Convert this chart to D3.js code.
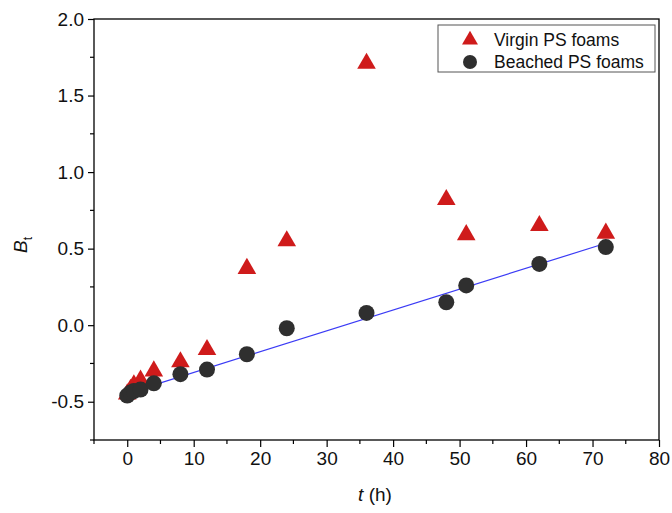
<!DOCTYPE html>
<html><head><meta charset="utf-8">
<script src="https://cdn.jsdelivr.net/npm/d3@7"></script>
<style>body{margin:0;background:#fff}svg{display:block;font-family:"Liberation Sans",Arial,sans-serif}</style>
</head><body><svg id="c" width="672" height="513"></svg>
<script>
const times = [0, 0.5, 1, 2, 4, 8, 12, 18, 24, 36, 48, 51, 62, 72];
const virgin = [-0.45, -0.42, -0.39, -0.36, -0.30, -0.24, -0.16, 0.37, 0.55, 1.71, 0.82, 0.59, 0.65, 0.60];
const beached = [-0.46, -0.44, -0.43, -0.42, -0.38, -0.32, -0.29, -0.19, -0.02, 0.08, 0.15, 0.26, 0.40, 0.51];
const fitT = [0, 72];
const fitB = [-0.445, 0.535];
const xTicks = [0, 10, 20, 30, 40, 50, 60, 70, 80];
const xMinor = [-5, 5, 15, 25, 35, 45, 55, 65, 75];
const yTicks = [-0.5, 0.0, 0.5, 1.0, 1.5, 2.0];
const yMinor = [-0.75, -0.25, 0.25, 0.75, 1.25, 1.75];
const seriesNames = ["Virgin PS foams", "Beached PS foams"];

const svg = d3.select("#c");
const L = 94, R = 659, T = 19, B = 440;
const x = d3.scaleLinear().domain([-5, 80]).range([L, R]);
const y = d3.scaleLinear().domain([-0.75, 2.0]).range([B, T]);

// frame
svg.append("rect").attr("x", L).attr("y", T).attr("width", R - L).attr("height", B - T)
  .attr("fill", "none").attr("stroke", "#000").attr("stroke-width", 1.3);

// minor ticks
svg.append("g").selectAll("line").data(xMinor).join("line")
  .attr("x1", d => x(d)).attr("x2", d => x(d)).attr("y1", B).attr("y2", B + 4)
  .attr("stroke", "#000").attr("stroke-width", 1.2);
svg.append("g").selectAll("line").data(yMinor).join("line")
  .attr("x1", L - 4).attr("x2", L).attr("y1", d => y(d)).attr("y2", d => y(d))
  .attr("stroke", "#000").attr("stroke-width", 1.2);

// axes
const fmtY = d => d3.format(".1f")(d).replace("\u2212", "-");
const xAxis = svg.append("g").attr("transform", `translate(0,${B})`)
  .call(d3.axisBottom(x).tickValues(xTicks).tickSize(7).tickPadding(5).tickFormat(d3.format("d")));
const yAxis = svg.append("g").attr("transform", `translate(${L},0)`)
  .call(d3.axisLeft(y).tickValues(yTicks).tickSize(6).tickPadding(4).tickFormat(fmtY));
[xAxis, yAxis].forEach(g => {
  g.select(".domain").remove();
  g.selectAll("line").attr("stroke-width", 1.2);
  g.selectAll("text").attr("font-size", 19).attr("fill", "#111").attr("font-family", "Liberation Sans, Arial, sans-serif");
});

// fit line
svg.append("line").attr("x1", x(fitT[0])).attr("y1", y(fitB[0])).attr("x2", x(fitT[1])).attr("y2", y(fitB[1]))
  .attr("stroke", "#3b3bf5").attr("stroke-width", 1.2);

const tri = d3.symbol().type(d3.symbolTriangle).size(150);
const red = "#cf1b1b", dark = "#2f2f2f";
svg.append("g").selectAll("path").data(times).join("path")
  .attr("d", tri).attr("transform", (d, i) => `translate(${x(d)},${y(virgin[i])})`)
  .attr("fill", red);
svg.append("g").selectAll("circle").data(times).join("circle")
  .attr("cx", d => x(d)).attr("cy", (d, i) => y(beached[i])).attr("r", 8)
  .attr("fill", dark);

// legend
const lg = svg.append("g");
lg.append("rect").attr("x", 438).attr("y", 25).attr("width", 217).attr("height", 47)
  .attr("fill", "#fff").attr("stroke", "#555").attr("stroke-width", 1);
lg.append("path").attr("d", d3.symbol().type(d3.symbolTriangle).size(110)).attr("transform", "translate(470,40)").attr("fill", red);
lg.append("circle").attr("cx", 470).attr("cy", 62).attr("r", 7).attr("fill", dark);
lg.selectAll("text").data(seriesNames).join("text")
  .attr("x", 494).attr("y", (d, i) => 46 + i * 22).attr("font-size", 17.5).attr("fill", "#111").text(d => d);

// axis titles
const yl = svg.append("text").attr("transform", "translate(27,245) rotate(-90)").attr("text-anchor", "middle")
  .attr("font-size", 19).attr("fill", "#111");
yl.append("tspan").attr("font-style", "italic").text("B");
yl.append("tspan").attr("font-size", 12).attr("dy", 5).text("t");
const xl = svg.append("text").attr("x", 375).attr("y", 501).attr("text-anchor", "middle").attr("font-size", 19).attr("fill", "#111");
xl.append("tspan").attr("font-style", "italic").text("t");
xl.append("tspan").text(" (h)");
</script></body></html>
